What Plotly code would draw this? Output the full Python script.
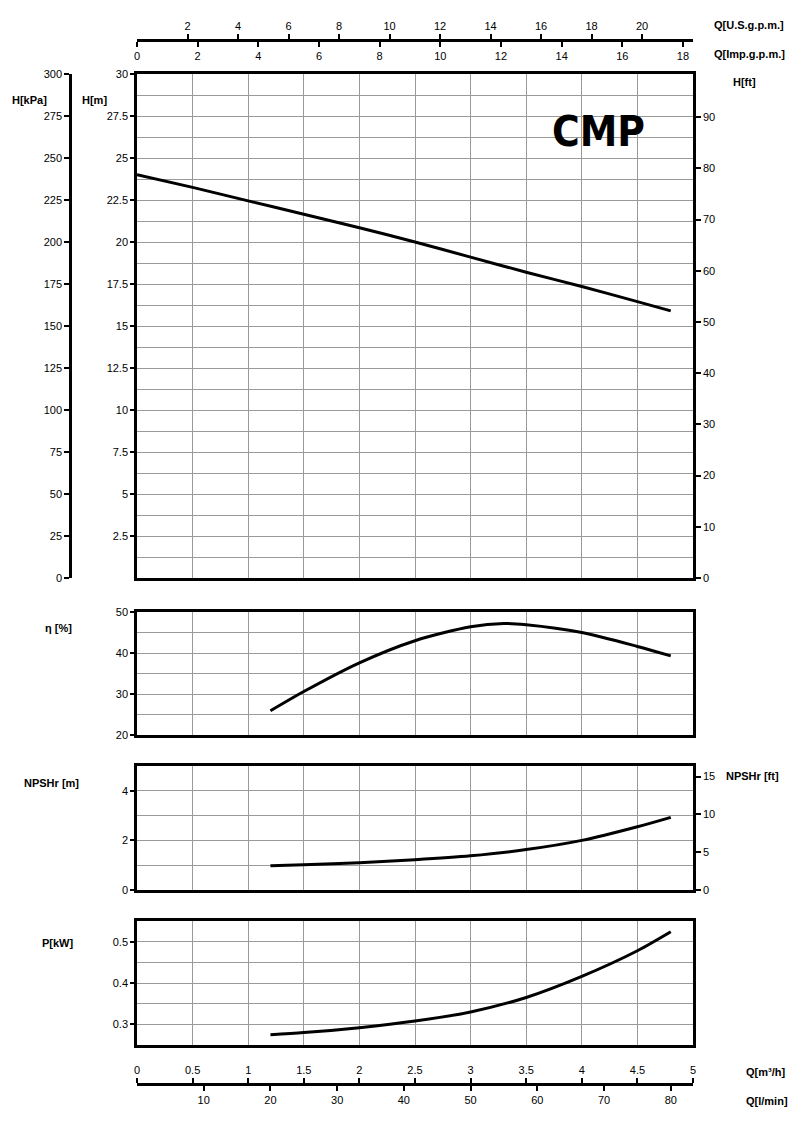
import plotly.graph_objects as go

# ---------- dados (Q em m³/h) ----------
q_h = [0, 0.5, 1, 1.5, 2, 2.5, 3, 3.5, 4, 4.5, 4.8]
h_m = [24.0, 23.25, 22.45, 21.65, 20.85, 20.0, 19.1, 18.2, 17.35, 16.45, 15.9]

q_eta = [1.2, 1.5, 2, 2.5, 3, 3.3, 3.5, 4, 4.5, 4.8]
eta = [25.9, 30.6, 37.6, 43.0, 46.4, 47.2, 46.9, 45.0, 41.6, 39.3]

q_npsh = [1.2, 1.5, 2, 2.5, 3, 3.5, 4, 4.5, 4.8]
npsh = [0.98, 1.02, 1.1, 1.22, 1.38, 1.63, 2.0, 2.55, 2.93]

q_p = [1.2, 1.5, 2, 2.5, 3, 3.5, 4, 4.5, 4.8]
p_kw = [0.275, 0.28, 0.292, 0.308, 0.330, 0.365, 0.416, 0.478, 0.524]

Q_MAX = 5.0
IMP_MAX = Q_MAX * 1000 / 60 / 4.54609   # Imp.g.p.m.
US_MAX = Q_MAX * 1000 / 60 / 3.785411   # U.S.g.p.m.
LMIN_MAX = Q_MAX * 1000 / 60            # l/min
FT = 3.28084

# a página tem 8px de margem no body -> figura menor e deslocada
OFF = 8
W, H = 800 - 2 * OFF, 1124 - 2 * OFF
px_x = lambda v: (v - OFF) / W
px_y = lambda v: 1 - (v - OFF) / H

XDOM = [px_x(137), px_x(693)]
DOM_H = [px_y(578), px_y(74)]
DOM_ETA = [px_y(735), px_y(612)]
DOM_NPSH = [px_y(890), px_y(766)]
DOM_P = [px_y(1045), px_y(921)]

FONT = dict(family="Liberation Sans, Arial, sans-serif", size=11, color="black")
GRID = "#9a9a9a"

fig = go.Figure()

def curva(x, y, xa, ya):
    fig.add_trace(go.Scatter(x=x, y=y, xaxis=xa, yaxis=ya, mode="lines",
                             line=dict(color="black", width=3, shape="spline", smoothing=0.8),
                             showlegend=False, hoverinfo="skip"))

curva(q_h, h_m, "x", "y")
curva(q_eta, eta, "x2", "y2")
curva(q_npsh, npsh, "x3", "y3")
curva(q_p, p_kw, "x4", "y4")

# traços vazios só para registrar os eixos auxiliares
for xa, ya in [("x5", "y"), ("x6", "y"), ("x7", "y"), ("x8", "y"),
               ("x", "y5"), ("x", "y6"), ("x3", "y7")]:
    fig.add_trace(go.Scatter(x=[], y=[], xaxis=xa, yaxis=ya, showlegend=False))

frame_x = dict(domain=XDOM, range=[0, Q_MAX], autorange=False, dtick=0.5, tick0=0,
               showgrid=True, gridcolor=GRID, gridwidth=1, showticklabels=False, ticks="",
               showline=True, mirror=True, linecolor="black", linewidth=2.5,
               zeroline=False, automargin=False)

def frame_y(dom, rng, vals, minor_dtick, anchor):
    return dict(domain=dom, range=rng, autorange=False, anchor=anchor,
                tickvals=vals, ticktext=[f"{v:g}" for v in vals],
                ticks="outside", ticklen=4, tickwidth=2, tickcolor="black",
                showgrid=True, gridcolor=GRID, gridwidth=1,
                minor=dict(dtick=minor_dtick, tick0=0, showgrid=True, gridcolor=GRID,
                           gridwidth=1, ticks=""),
                showline=True, mirror=True, linecolor="black", linewidth=2.5,
                zeroline=False, automargin=False, tickfont=FONT)

aux = dict(showline=True, linecolor="black", linewidth=2.5, ticks="outside",
           ticklen=5, tickwidth=2, tickcolor="black", showgrid=False,
           zeroline=False, automargin=False, tickfont=FONT)

fig.update_layout(
    width=W, height=H, template="none",
    margin=dict(l=0, r=0, t=0, b=0),
    paper_bgcolor="white", plot_bgcolor="white", font=FONT, showlegend=False,
    xaxis=dict(frame_x, anchor="y"),
    xaxis2=dict(frame_x, anchor="y2"),
    xaxis3=dict(frame_x, anchor="y3"),
    xaxis4=dict(frame_x, anchor="y4"),
    yaxis=frame_y(DOM_H, [0, 30], [2.5 * i for i in range(1, 13)], 1.25, "x"),
    yaxis2=frame_y(DOM_ETA, [20, 50], [20, 30, 40, 50], 5, "x2"),
    yaxis3=frame_y(DOM_NPSH, [0, 5], [0, 2, 4], 1, "x3"),
    yaxis4=frame_y(DOM_P, [0.25, 0.55], [0.3, 0.4, 0.5], 0.05, "x4"),
    # escalas auxiliares
    yaxis5=dict(aux, overlaying="y", anchor="free", position=px_x(70), side="left",
                range=[0, 300], autorange=False, dtick=25, tick0=0),
    yaxis6=dict(aux, overlaying="y", anchor="x", side="right",
                range=[0, 30 * FT], autorange=False, dtick=10, tick0=0),
    yaxis7=dict(aux, overlaying="y3", anchor="x3", side="right",
                range=[0, 5 * FT], autorange=False, dtick=5, tick0=0),
    xaxis5=dict(aux, overlaying="x", anchor="free", position=px_y(40), side="bottom",
                range=[0, IMP_MAX], autorange=False, dtick=2, tick0=0),
    xaxis6=dict(aux, overlaying="x", anchor="free", position=px_y(40), side="top",
                range=[0, US_MAX], autorange=False,
                tickvals=list(range(2, 21, 2))),
    xaxis7=dict(aux, overlaying="x", anchor="free", position=px_y(1084), side="top",
                range=[0, Q_MAX], autorange=False, dtick=0.5, tick0=0),
    xaxis8=dict(aux, overlaying="x", anchor="free", position=px_y(1084), side="bottom",
                range=[0, LMIN_MAX], autorange=False,
                tickvals=list(range(10, 81, 10))),
)

LABELS = [
    ("H[kPa]", 10, 100),
    ("H[m]", 80, 100),
    ("H[ft]", 731, 82),
    ("Q[U.S.g.p.m.]", 712, 25),
    ("Q[Imp.g.p.m.]", 712, 54),
    ("η [%]", 43, 628),
    ("NPSHr [m]", 22, 783),
    ("NPSHr [ft]", 724, 776),
    ("P[kW]", 40, 943),
    ("Q[m³/h]", 744, 1072),
    ("Q[l/min]", 744, 1101),
]
for txt, x, y in LABELS:
    fig.add_annotation(text=f"<b>{txt}</b>", x=px_x(x), y=px_y(y), xref="paper", yref="paper",
                       xanchor="left", yanchor="middle", showarrow=False,
                       font=dict(family="Liberation Sans, Arial, sans-serif", size=11, color="black"))

fig.add_annotation(text="<b>CMP</b>", x=px_x(598), y=px_y(131), xref="paper", yref="paper",
                   xanchor="center", yanchor="middle", showarrow=False,
                   font=dict(family="Liberation Sans Narrow, DejaVu Sans Condensed, Arial Narrow, sans-serif",
                             size=42, color="black"))

fig.write_html("out.html")
